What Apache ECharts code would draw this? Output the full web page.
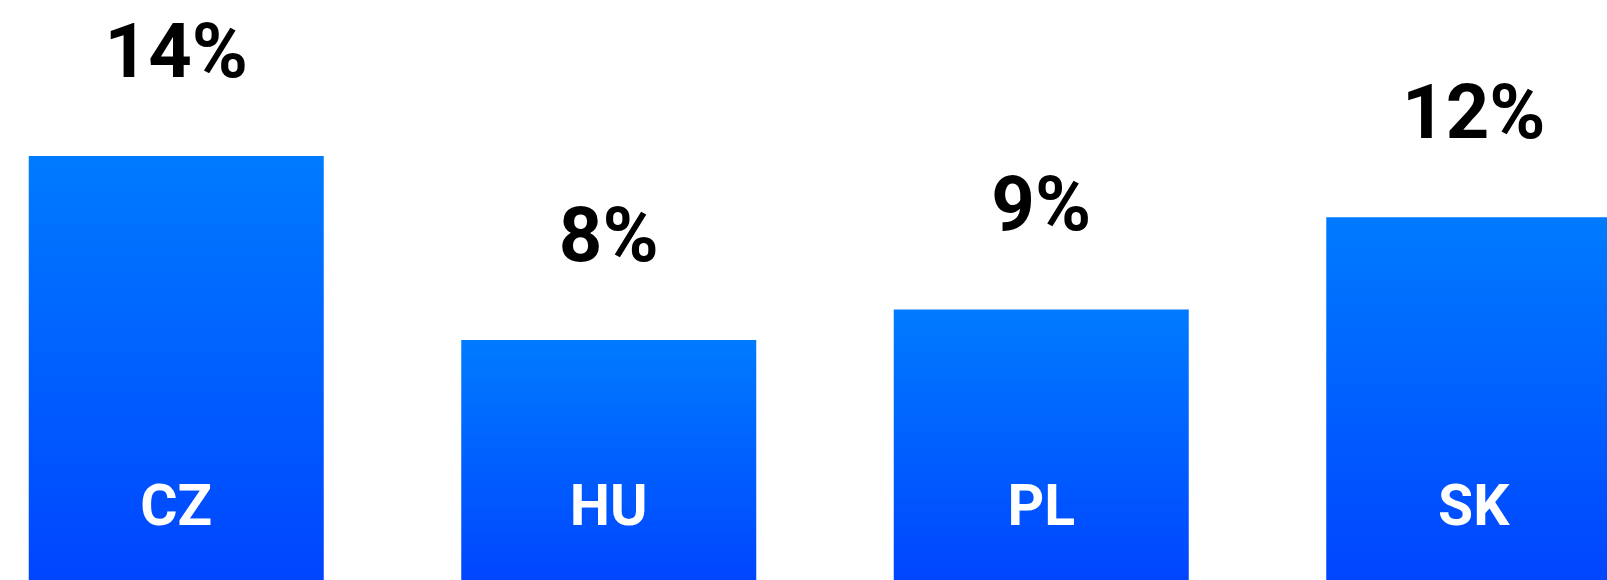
<!DOCTYPE html>
<html>
<head>
<meta charset="utf-8">
<style>
  html, body { margin: 0; padding: 0; background: #ffffff; overflow: hidden; width: 1607px; height: 580px; }
  #wrap { position: relative; width: 1607px; height: 580px; overflow: hidden; }
  #chart { position: absolute; left: -40px; top: 0; width: 1730px; height: 586px; }
</style>
<script src="https://cdn.jsdelivr.net/npm/echarts@6/dist/echarts.min.js"></script>
</head>
<body>
<div id="wrap"><div id="chart"></div></div>
<script>
const categories = ['CZ', 'HU', 'PL', 'SK'];
const shareValues = [14, 8, 9, 12];

const chart = echarts.init(document.getElementById('chart'), null, { renderer: 'canvas' });
chart.setOption({
  backgroundColor: '#ffffff',
  animation: false,
  grid: { left: 0, right: 0, top: 156, bottom: 0.5, containLabel: false },
  xAxis: {
    type: 'category',
    data: categories,
    axisLine: { show: false },
    axisTick: { show: false },
    splitLine: { show: false },
    z: 10,
    axisLabel: {
      inside: true,
      margin: 46.5,
      color: '#ffffff',
      fontFamily: 'Roboto',
      fontWeight: 700,
      fontSize: 57,
      lineHeight: 57
    }
  },
  yAxis: {
    type: 'value',
    min: 0,
    max: 14,
    show: false,
    splitLine: { show: false }
  },
  series: [{
    type: 'bar',
    data: shareValues,
    barWidth: 295,
    itemStyle: {
      color: new echarts.graphic.LinearGradient(0, 0, 0, 1, [
        { offset: 0, color: '#007BFF' },
        { offset: 1, color: '#0044FF' }
      ])
    },
    label: {
      show: true,
      position: 'top',
      distance: 60,
      formatter: '{c}%',
      color: '#000000',
      fontFamily: 'Roboto',
      fontWeight: 700,
      fontSize: 76,
      lineHeight: 76
    }
  }]
});
</script>
</body>
</html>
